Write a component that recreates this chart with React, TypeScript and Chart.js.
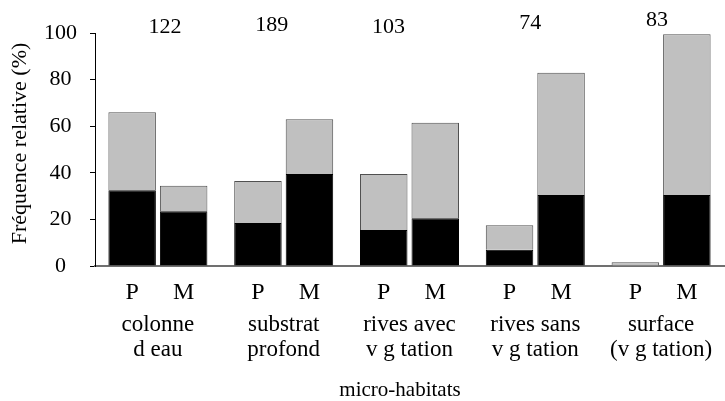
import React, { useEffect, useRef } from "react";
import { Chart, registerables } from "chart.js";

Chart.register(...registerables);

// ---- data ----
const habitats: string[][] = [
  ["colonne", "d eau"],
  ["substrat", "profond"],
  ["rives avec", "v g tation"],
  ["rives sans", "v g tation"],
  ["surface", "(v g tation)"],
];
const barLabels = ["P", "M"];
const sampleSizes = [122, 189, 103, 74, 83];
const pBlack = [32.5, 18.5, 15.5, 7, 0];
const pGray = [33.5, 18, 24, 10.5, 1.7];
const mBlack = [23.5, 39.5, 20.5, 30.5, 30.5];
const mGray = [11, 23.5, 41, 52.5, 69];
const yTitle = "Fréquence relative (%)";
const xTitle = "micro-habitats";

const FONT = '"Liberation Serif", "Times New Roman", serif';

const annotations = {
  id: "annotations",
  afterDraw(chart: any) {
    const { ctx, chartArea } = chart;
    const xScale = chart.scales.x;
    ctx.save();
    ctx.fillStyle = "#000";
    ctx.textAlign = "center";
    ctx.textBaseline = "middle";
    // P / M under each bar
    ctx.font = `24px ${FONT}`;
    [0, 2].forEach((di, k) => {
      const meta = chart.getDatasetMeta(di);
      meta.data.forEach((el: any) => {
        ctx.fillText(barLabels[k], el.x, chartArea.bottom + 27);
      });
    });
    // sample sizes above groups
    const dx = [7, -12, -21, -5, -4];
    const dy = [-6, -8, -6, -10, -13];
    ctx.font = `22px ${FONT}`;
    sampleSizes.forEach((n, i) => {
      ctx.fillText(String(n), xScale.getPixelForValue(i) + dx[i], chartArea.top + dy[i]);
    });
    // axis titles
    ctx.font = `21px ${FONT}`;
    ctx.fillText(xTitle, 400, 390);
    ctx.save();
    ctx.translate(20, 143.5);
    ctx.rotate(-Math.PI / 2);
    ctx.font = `22px ${FONT}`;
    ctx.fillText(yTitle, 0, 0);
    ctx.restore();
    ctx.restore();
  },
};

export default function App() {
  const ref = useRef<HTMLCanvasElement | null>(null);
  useEffect(() => {
    if (!ref.current) return;
    const gray = "#c0c0c0";
    const edge = "#505050";
    const common = {
      barPercentage: 0.922,
      categoryPercentage: 0.819,
      borderWidth: 1,
    };
    const chart = new Chart(ref.current, {
      type: "bar",
      data: {
        labels: habitats.map((h) => ["", ...h]),
        datasets: [
          { ...common, label: "P1", data: pBlack, stack: "P", backgroundColor: "#000", borderColor: "#000" },
          { ...common, label: "P2", data: pGray, stack: "P", backgroundColor: gray, borderColor: edge },
          { ...common, label: "M1", data: mBlack, stack: "M", backgroundColor: "#000", borderColor: "#000" },
          { ...common, label: "M2", data: mGray, stack: "M", backgroundColor: gray, borderColor: edge },
        ],
      },
      options: {
        animation: false,
        responsive: true,
        maintainAspectRatio: false,
        layout: { padding: { top: 33, left: 31, right: 1, bottom: 17 } },
        plugins: { legend: { display: false }, tooltip: { enabled: false } },
        scales: {
          x: {
            stacked: true,
            grid: { display: false, drawTicks: false },
            border: { display: true, color: "#707070", width: 2 },
            ticks: {
              color: "#000",
              padding: 21,
              font: { family: FONT, size: 23, lineHeight: 1.1 },
              maxRotation: 0,
              autoSkip: false,
            },
            afterFit: (scale: any) => {
              scale.paddingLeft = 0;
              scale.paddingRight = 0;
            },
          },
          y: {
            stacked: true,
            min: 0,
            max: 100,
            grid: { drawOnChartArea: false, drawTicks: true, tickLength: 5, color: "#000" },
            border: { display: true, color: "#000", width: 1 },
            ticks: {
              stepSize: 20,
              color: "#000",
              padding: 13,
              crossAlign: "center",
              font: { family: FONT, size: 22 },
            },
          },
        },
      },
      plugins: [annotations],
    });
    return () => chart.destroy();
  }, []);
  return (
    <div style={{ position: "fixed", left: 0, top: 0, width: 725, height: 401, background: "#fff" }}>
      <canvas ref={ref} />
    </div>
  );
}
